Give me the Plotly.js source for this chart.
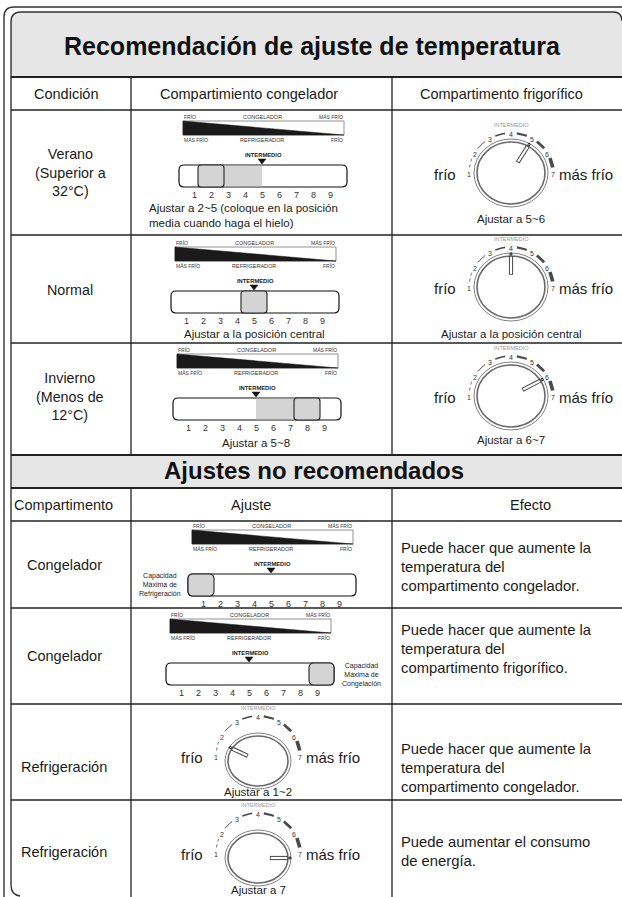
<!DOCTYPE html>
<html><head><meta charset="utf-8">
<script src="https://cdn.plot.ly/plotly-3.0.1.min.js"></script>
<style>html,body{margin:0;padding:0;background:#fff;overflow:hidden}#chart{width:622px;height:897px}</style>
</head><body><div id="chart"></div>
<script>
// ---------- data ----------
const mainTitle = 'Recomendación de ajuste de temperatura';
const subTitle = 'Ajustes no recomendados';
const headers1 = ['Condición', 'Compartimiento congelador', 'Compartimento frigorífico'];
const headers2 = ['Compartimento', 'Ajuste', 'Efecto'];
const conditions = [['Verano', '(Superior a', '32°C)'], ['Normal'], ['Invierno', '(Menos de', '12°C)']];
const freezerThumb = [2, 5, 8];
const freezerFillFrom = [2, 5, 5];
const freezerFillTo = [5, 5, 8];
const freezerNotes = [['Ajustar a 2~5 (coloque en la posición', 'media cuando haga el hielo)'], ['Ajustar a la posición central'], ['Ajustar a 5~8']];
const fridgeDial = [5, 4, 6];
const fridgeNotes = ['Ajustar a 5~6', 'Ajustar a la posición central', 'Ajustar a 6~7'];
const badCompartments = ['Congelador', 'Congelador', 'Refrigeración', 'Refrigeración'];
const badFreezerThumb = [1, 9];
const badFreezerNotes = [['Capacidad', 'Máxima de', 'Refrigeración'], ['Capacidad', 'Máxima de', 'Congelación']];
const badDial = [2, 7];
const badDialNotes = ['Ajustar a 1~2', 'Ajustar a 7'];
const badEffects = [
  ['Puede hacer que aumente la', 'temperatura del', 'compartimento congelador.'],
  ['Puede hacer que aumente la', 'temperatura del', 'compartimento frigorífico.'],
  ['Puede hacer que aumente la', 'temperatura del', 'compartimento congelador.'],
  ['Puede aumentar el consumo', 'de energía.']
];
const sliderTicks = ['1', '2', '3', '4', '5', '6', '7', '8', '9'];
const dialTicks = ['1', '2', '3', '4', '5', '6', '7'];
const gaugeTop = ['FRÍO', 'CONGELADOR', 'MÁS FRÍO'];
const gaugeBottom = ['MÁS FRÍO', 'REFRIGERADOR', 'FRÍO'];
const midLabel = 'INTERMEDIO';
const dialEnds = ['frío', 'más frío'];

// ---------- drawing helpers ----------
const FONT = '"Liberation Sans", Arial, Helvetica, sans-serif';
const shapes = [], annotations = [], traces = [];
function T(x, y, text, size, o) {
  o = o || {};
  annotations.push({x: x, y: y, xref: 'x', yref: 'y', text: text, showarrow: false,
    font: {family: FONT, size: size, color: o.color || '#1b1b1b'},
    xanchor: o.xa || 'center', yanchor: 'middle', align: o.align || 'center', borderpad: 0});
}
function L(x0, y0, x1, y1, w, c) {
  shapes.push({type: 'line', xref: 'x', yref: 'y', x0: x0, y0: y0, x1: x1, y1: y1, line: {width: w, color: c || '#222'}});
}
function P(path, fill, lc, lw) {
  shapes.push({type: 'path', xref: 'x', yref: 'y', path: path, fillcolor: fill || 'rgba(0,0,0,0)',
    line: {color: lc || 'rgba(0,0,0,0)', width: lw || 0}});
}
function RR(x0, y0, x1, y1, r, fill, lc, lw) {
  const p = `M${x0 + r},${y0} L${x1 - r},${y0} Q${x1},${y0} ${x1},${y0 + r} L${x1},${y1 - r} Q${x1},${y1} ${x1 - r},${y1} L${x0 + r},${y1} Q${x0},${y1} ${x0},${y1 - r} L${x0},${y0 + r} Q${x0},${y0} ${x0 + r},${y0} Z`;
  P(p, fill, lc, lw);
}
function E(cx, cy, rx, ry, lc, lw) {
  shapes.push({type: 'circle', xref: 'x', yref: 'y', x0: cx - rx, x1: cx + rx, y0: cy - ry, y1: cy + ry,
    line: {color: lc, width: lw}, fillcolor: 'rgba(0,0,0,0)'});
}

// freezer slider gauge
function gauge(x0, yL, thumb, fFrom, fTo) {
  const wl = x0 - 79, wr = x0 + 82;
  T(wl, yL, gaugeTop[0], 5, {xa: 'left', color: '#333'});
  T(x0, yL, gaugeTop[1], 5.5, {color: '#333'});
  T(wr, yL, gaugeTop[2], 5, {xa: 'right', color: '#333'});
  P(`M${wl},${yL + 4} L${wr},${yL + 4} L${wr},${yL + 18} L${wl},${yL + 18} Z`, '#fff', '#777', 0.8);
  P(`M${wl},${yL + 4} L${wr},${yL + 18} L${wl},${yL + 18} Z`, '#1a1a1a', '#1a1a1a', 0.5);
  T(wl, yL + 23, gaugeBottom[0], 5, {xa: 'left', color: '#333'});
  T(x0, yL + 23, gaugeBottom[1], 5.5, {color: '#333'});
  T(wr, yL + 23, gaugeBottom[2], 5, {xa: 'right', color: '#333'});
  T(x0 + 1, yL + 38, '<b>' + midLabel + '</b>', 5.8, {color: '#222'});
  P(`M${x0 - 4},${yL + 42} L${x0 + 4},${yL + 42} L${x0},${yL + 47} Z`, '#111', '#111', 0.5);
  const sL = x0 - 83, sR = x0 + 85, sT = yL + 48, sB = yL + 70;
  const px = i => x0 + (i - 5) * 17;
  RR(sL, sT, sR, sB, 5, '#fff', '#111', 1.2);
  if (fTo > fFrom) {
    P(`M${px(fFrom)},${sT + 0.7} L${px(fTo)},${sT + 0.7} L${px(fTo)},${sB - 0.7} L${px(fFrom)},${sB - 0.7} Z`, '#d4d4d4');
  }
  let tl = px(thumb) - 13, tr = px(thumb) + 13, r = 3;
  if (tl - sL < 6) { tl = sL; tr = sL + 26; r = 5; }
  if (sR - tr < 6) { tr = sR; tl = sR - 25; r = 5; }
  RR(tl, sT, tr, sB, r, '#d4d4d4', '#222', 1.1);
  for (let i = 1; i <= 9; i++) T(px(i), yL + 78, sliderTicks[i - 1], 9, {color: '#333'});
}

// fridge dial: g = geometry {rx, ry, dy} of the ring; numbers on an ellipse NX x NY
const arcWidths = [0.8, 1.0, 1.6, 2.1, 2.7, 3.6];
function dial(cx, cy, val, g) {
  const ang = k => (180 - (k - 1) * 30) * Math.PI / 180;
  const NX = 42, NY = 40;
  for (let k = 1; k <= 6; k++) {
    const a0 = ang(k) - 0.14, a1 = ang(k + 1) + 0.14;
    const xs = [], ys = [];
    for (let j = 0; j <= 16; j++) {
      const a = a0 + (a1 - a0) * j / 16;
      xs.push(cx + NX * Math.cos(a)); ys.push(cy - NY * Math.sin(a));
    }
    traces.push({type: 'scatter', mode: 'lines', x: xs, y: ys, hoverinfo: 'skip', showlegend: false,
      line: {color: '#4a4a4a', width: arcWidths[k - 1], dash: k === 1 ? 'dot' : 'solid'}});
  }
  for (let k = 1; k <= 7; k++) {
    T(cx + NX * Math.cos(ang(k)), cy + 1 - NY * Math.sin(ang(k)), dialTicks[k - 1], 7, {color: '#333'});
  }
  const rcy = cy + g.dy;
  E(cx, rcy, g.rx, g.ry, '#808080', 1);
  E(cx, rcy, g.rx - 3, g.ry - 3, '#6a6a6a', 1.6);
  const th = ang(val);
  const c = Math.cos(th), sn = Math.sin(th);
  const r0x = 0.36 * g.rx, r0y = 0.36 * g.ry, r1x = g.rx - 3, r1y = g.ry - 3;
  L(cx + r0x * c, rcy - r0y * sn, cx + r1x * c, rcy - r1y * sn, 4.2, '#444');
  L(cx + (r0x + 0.8) * c, rcy - (r0y + 0.8) * sn, cx + (r1x - 0.8) * c, rcy - (r1y - 0.8) * sn, 2.2, '#fff');
  E(cx + (g.rx - 1) * c, rcy - (g.ry - 1) * sn, 1.1, 1.1, '#111', 1);
  T(cx, cy - 48, midLabel, 5.5, {color: '#9a9a9a'});
  T(cx - 66, cy + 1, dialEnds[0], 15);
  T(cx + 47, cy + 1, dialEnds[1], 15, {xa: 'left'});
}

// ---------- frame & table ----------
const XL = 11, XR = 622, C1 = 131, C2 = 392;
P(`M${XL},77 L${XL},22 Q${XL},12 ${XL + 10},12 L${XR - 9},12 Q${XR},12 ${XR},21 L${XR},77 Z`, '#e6e6e6');
P(`M${XL},455 L${XR},455 L${XR},488 L${XL},488 Z`, '#e6e6e6');
// outer double frame
P(`M4,900 L4,17 Q4,7 14,7 L${XR},7`, null, '#333', 1.4);
P(`M${XL},885 Q${XL},895 ${XL + 9},896 M${XL},885 L${XL},22 Q${XL},12 ${XL + 10},12 L${XR - 9},12 Q${XR},12 ${XR},21`, null, '#333', 1.4);
// horizontal rules
[[77, 2], [110, 1.3], [235, 1.3], [343, 1.3], [455, 1.8], [488, 1.8], [521, 1.3], [608, 1.3], [704, 1.3], [800, 1.3]]
  .forEach(h => L(XL, h[0], XR, h[0], h[1], '#222'));
[C1, C2].forEach(x => { L(x, 77, x, 455, 1.3, '#222'); L(x, 488, x, 900, 1.3, '#222'); });

T(312, 46, '<b>' + mainTitle + '</b>', 25, {color: '#111'});
T(314, 470, '<b>' + subTitle + '</b>', 24, {color: '#111'});
const col1X = [66, 249, 501];
const col2X = [63, 251, 530];
headers1.forEach((h, i) => T(col1X[i], 94, h, 14.5));
headers2.forEach((h, i) => T(col2X[i], 505, h, 14.5));

// recommended rows
const recRowMid = [172, 290, 396];
conditions.forEach((c, i) => T(70, recRowMid[i], c.join('<br>'), 14.3));
const recGaugeX = [262, 254, 256];
const recGaugeY = [117, 243, 350];
freezerThumb.forEach((t, i) => gauge(recGaugeX[i], recGaugeY[i], t, freezerFillFrom[i], freezerFillTo[i]));
T(148, 215, freezerNotes[0].join('<br>'), 11.5, {xa: 'left', align: 'left'});
T(recGaugeX[1], 334, freezerNotes[1][0], 11.5);
T(recGaugeX[2], 443, freezerNotes[2][0], 11.5);
const bigRing = {rx: 37, ry: 34, dy: 0};
const recDialY = [173, 287, 396];
fridgeDial.forEach((v, i) => dial(511, recDialY[i], v, bigRing));
const recNoteY = [219, 334, 440];
fridgeNotes.forEach((n, i) => T(511, recNoteY[i], n, 11.5));

// not recommended rows
const badMid = [565, 656, 767, 852];
badCompartments.forEach((c, i) => T(64, badMid[i], c, 14.5));
const badGaugeX = [271, 249];
const badGaugeY = [526, 615];
badFreezerThumb.forEach((t, i) => gauge(badGaugeX[i], badGaugeY[i], t, t, t));
T(160, 585, badFreezerNotes[0].join('<br>'), 7, {color: '#222'});
T(361, 675, badFreezerNotes[1].join('<br>'), 7, {color: '#222'});
const smallRing = {rx: 33, ry: 28, dy: 5};
const badDialY = [756, 853];
badDial.forEach((v, i) => dial(258, badDialY[i], v, smallRing));
const badNoteY = [792, 890];
badDialNotes.forEach((n, i) => T(258, badNoteY[i], n, 11.5));
const effectMid = [567, 649, 768, 851];
badEffects.forEach((e, i) => T(400, effectMid[i], e.join('<br>'), 14.8, {xa: 'left', align: 'left'}));

Plotly.newPlot('chart', traces, {
  width: 622, height: 897, margin: {l: 0, r: 0, t: 0, b: 0},
  paper_bgcolor: '#fff', plot_bgcolor: '#fff', showlegend: false, hovermode: false,
  xaxis: {range: [0, 622], visible: false, fixedrange: true},
  yaxis: {range: [897, 0], visible: false, fixedrange: true},
  shapes: shapes, annotations: annotations
}, {staticPlot: true, displayModeBar: false});
</script></body></html>
